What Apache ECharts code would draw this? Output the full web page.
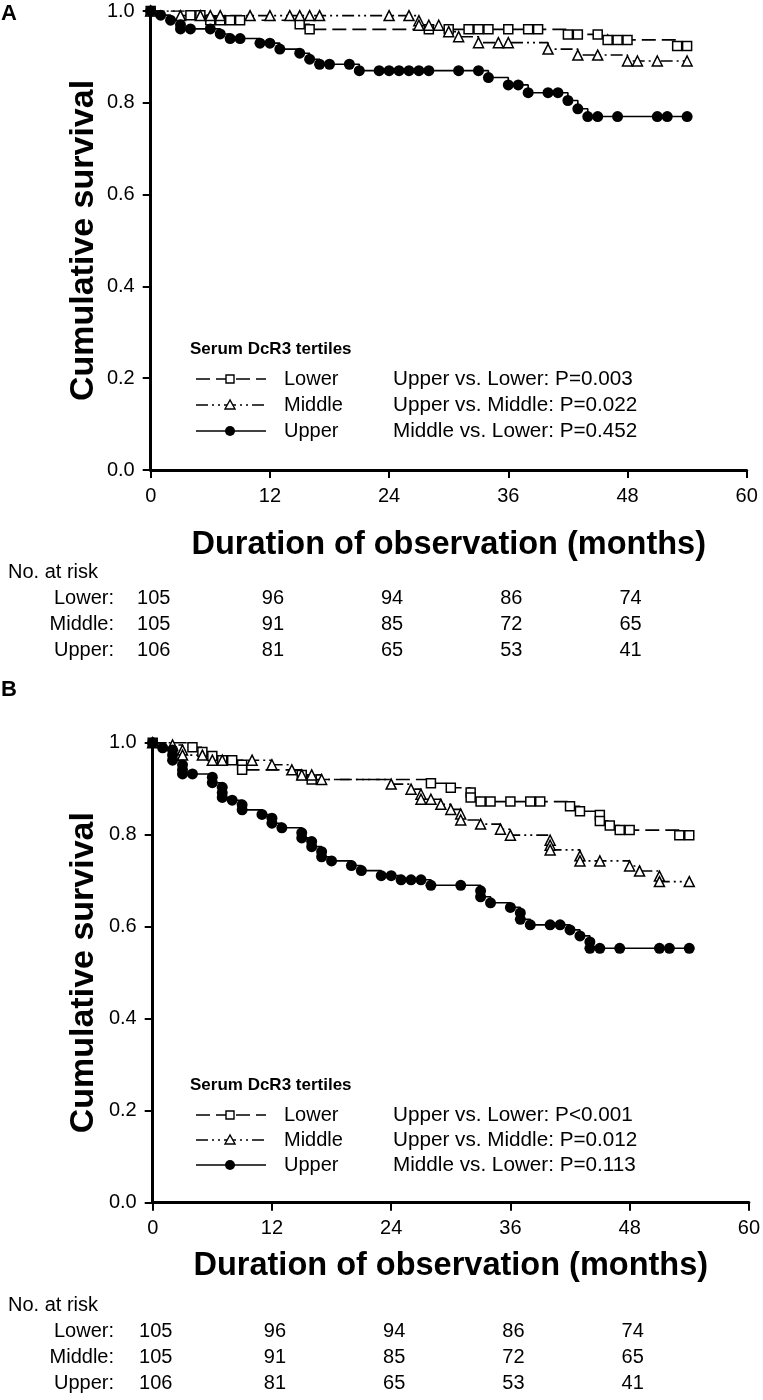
<!DOCTYPE html>
<html>
<head>
<meta charset="utf-8">
<script src="https://cdn.jsdelivr.net/npm/echarts@6/dist/echarts.min.js"></script>
<style>
html,body{margin:0;padding:0;background:#fff;}
#chart{width:763px;height:1400px;}
</style>
</head>
<body>
<div id="chart"></div>
<script>
// ---------- Panel A data ----------
const lowerA_t = [0,4,5,6,7,8,9,15,16,28,30,32,33,34,36,38,39,42,43,45,46,47,48,53,54];
const lowerA_s = [1,.991,.991,.980,.980,.980,.980,.971,.960,.960,.960,.960,.960,.960,.960,.960,.960,.949,.949,.949,.937,.937,.937,.924,.924];
const middleA_t = [0,3,5,6,7,10,12,14,15,16,17,24,26,27,27,28,29,30,31,33,35,36,40,43,45,48,49,51,54];
const middleA_s = [1,.990,.990,.990,.990,.990,.990,.990,.990,.990,.990,.990,.990,.979,.969,.969,.969,.955,.944,.931,.931,.931,.917,.904,.904,.891,.891,.891,.891];
const upperA_t = [0,1,2,3,3,4,6,7,8,9,11,12,13,15,16,17,18,20,21,23,24,25,26,27,28,31,33,34,36,37,38,40,41,42,43,44,45,47,51,52,54];
const upperA_s = [1,.991,.980,.970,.961,.961,.961,.950,.940,.940,.930,.930,.917,.908,.895,.884,.884,.884,.870,.870,.870,.870,.870,.870,.870,.870,.870,.855,.839,.839,.822,.822,.822,.805,.787,.770,.770,.770,.770,.770,.770];

// ---------- Panel B data ----------
const lowerB_t = [0,4,5,6,7,8,9,9,15,16,28,30,32,32,33,34,36,38,39,42,43,45,45,46,47,48,53,54];
const lowerB_s = [1,.990,.980,.971,.962,.962,.952,.941,.930,.920,.912,.902,.892,.881,.872,.872,.872,.872,.872,.862,.851,.843,.830,.820,.810,.810,.799,.799];
const middleB_t = [0,2,3,3,5,6,7,10,12,14,15,16,17,24,26,27,27,28,29,30,31,31,33,35,36,40,40,40,43,43,45,48,49,51,51,54];
const middleB_s = [1,.995,.984,.973,.973,.962,.962,.962,.952,.941,.930,.930,.920,.910,.899,.888,.877,.877,.866,.855,.845,.832,.823,.812,.799,.788,.777,.767,.754,.743,.743,.732,.721,.710,.698,.698];
const upperB_t = [0,1,2,2,2,3,3,3,4,6,6,7,7,7,8,9,9,11,12,12,13,15,15,16,16,17,17,18,20,21,23,24,25,26,27,28,31,33,33,34,36,37,37,38,40,41,42,43,44,44,45,47,51,52,54];
const upperB_s = [1,.989,.984,.973,.962,.952,.941,.932,.932,.925,.913,.903,.891,.881,.875,.865,.854,.844,.836,.825,.815,.804,.793,.785,.774,.763,.752,.743,.733,.722,.711,.711,.702,.702,.702,.690,.690,.678,.665,.652,.642,.630,.616,.604,.604,.604,.593,.580,.567,.553,.553,.553,.553,.553,.553];

// ---------- ticks / labels ----------
const xTicks = [0,12,24,36,48,60];
const yTicks = [0,0.2,0.4,0.6,0.8,1.0];
const groups = ['Lower','Middle','Upper'];
const riskTimes = [0,12,24,36,48];
const riskLower = [105,96,94,86,74];
const riskMiddle = [105,91,85,72,65];
const riskUpper = [106,81,65,53,41];
const pA = ['Upper vs. Lower: P=0.003','Upper vs. Middle: P=0.022','Middle vs. Lower: P=0.452'];
const pB = ['Upper vs. Lower: P<0.001','Upper vs. Middle: P=0.012','Middle vs. Lower: P=0.113'];
const legendTitle = 'Serum DcR3 tertiles';
const yTitle = 'Cumulative survival';
const xTitle = 'Duration of observation (months)';

const FONT = '"Liberation Sans", Arial, sans-serif';
const zip = (t, s) => t.map((v, i) => [v, s[i]]);

const chart = echarts.init(document.getElementById('chart'), null, {renderer: 'canvas'});

const dashLower = [14, 6];
const dashMiddle = [12, 4, 2, 4, 2, 4];

function axisPair(gi) {
  return {
    x: {
      type: 'value', gridIndex: gi, min: 0, max: 60, interval: 12,
      axisLine: {onZero: false, lineStyle: {color: '#000', width: 3}},
      axisTick: {length: 8, lineStyle: {color: '#000', width: 2}},
      axisLabel: {color: '#000', fontSize: 20, fontFamily: FONT, margin: 16},
      splitLine: {show: false}
    },
    y: {
      type: 'value', gridIndex: gi, min: 0, max: 1, interval: 0.2,
      axisLine: {show: true, onZero: false, lineStyle: {color: '#000', width: 3}},
      axisTick: {show: true, length: 8, lineStyle: {color: '#000', width: 2}},
      axisLabel: {color: '#000', fontSize: 20, fontFamily: FONT, margin: 16, formatter: v => v.toFixed(1)},
      splitLine: {show: false}
    }
  };
}
const a0 = axisPair(0), a1 = axisPair(1);

function series(gi, name, data, kind) {
  const base = {
    type: 'line', name: name, xAxisIndex: gi, yAxisIndex: gi, data: data,
    step: 'end', showSymbol: true, showAllSymbol: true, animation: false,
    lineStyle: {color: '#000', width: 1.6}
  };
  if (kind === 'lower') {
    base.symbol = 'rect'; base.symbolSize = 9;
    base.lineStyle.type = dashLower;
    base.itemStyle = {color: '#fff', borderColor: '#000', borderWidth: 1.5};
  } else if (kind === 'middle') {
    base.symbol = 'triangle'; base.symbolSize = 10;
    base.lineStyle.type = dashMiddle;
    base.itemStyle = {color: '#fff', borderColor: '#000', borderWidth: 1.5};
  } else {
    base.symbol = 'circle'; base.symbolSize = 11;
    base.itemStyle = {color: '#000', borderColor: '#000', borderWidth: 0};
    base.z = 3;
  }
  return base;
}

chart.setOption({
  backgroundColor: '#fff',
  animation: false,
  textStyle: {fontFamily: FONT},
  grid: [
    {left: 150.7, top: 11, width: 596, height: 459, containLabel: false},
    {left: 152.7, top: 742.7, width: 596.3, height: 460, containLabel: false}
  ],
  xAxis: [a0.x, a1.x],
  yAxis: [a0.y, a1.y],
  series: [
    series(0, 'Lower', zip(lowerA_t, lowerA_s), 'lower'),
    series(0, 'Middle', zip(middleA_t, middleA_s), 'middle'),
    series(0, 'Upper', zip(upperA_t, upperA_s), 'upper'),
    series(1, 'Lower', zip(lowerB_t, lowerB_s), 'lower'),
    series(1, 'Middle', zip(middleB_t, middleB_s), 'middle'),
    series(1, 'Upper', zip(upperB_t, upperB_s), 'upper')
  ]
});

// ---------- graphic overlays (titles, legends, at-risk table) ----------
const g = [];
function txt(x, y, s, opt) {
  opt = opt || {};
  g.push({
    type: 'text', x: x, y: y, rotation: opt.rot || 0, z: 100,
    style: {
      text: s, fill: '#000', fontFamily: FONT,
      fontSize: opt.size || 20, fontWeight: opt.bold ? 'bold' : 'normal',
      align: opt.align || 'left', verticalAlign: 'middle'
    }
  });
}
function legendBlock(titleY, rowYs, pTexts) {
  txt(190, titleY, legendTitle, {bold: true, size: 17});
  const kinds = ['lower', 'middle', 'upper'];
  rowYs.forEach((y, i) => {
    const k = kinds[i];
    const dash = k === 'lower' ? dashLower : (k === 'middle' ? dashMiddle : null);
    g.push({type: 'line', z: 100, shape: {x1: 196, y1: y, x2: 266, y2: y},
      style: {stroke: '#000', lineWidth: 1.6, lineDash: dash}});
    const cx = 230;
    if (k === 'lower') {
      g.push({type: 'rect', z: 101, shape: {x: cx - 4, y: y - 4, width: 8, height: 8},
        style: {fill: '#fff', stroke: '#000', lineWidth: 1.4}});
    } else if (k === 'middle') {
      g.push({type: 'polygon', z: 101, shape: {points: [[cx, y - 5], [cx - 5, y + 4], [cx + 5, y + 4]]},
        style: {fill: '#fff', stroke: '#000', lineWidth: 1.4}});
    } else {
      g.push({type: 'circle', z: 101, shape: {cx: cx, cy: y, r: 5}, style: {fill: '#000'}});
    }
    txt(284, y, groups[i], {size: 20});
    txt(393, y, pTexts[i], {size: 20.7});
  });
}
function panel(gi, letter, letterY, xTitleY, riskY) {
  const grid = gi === 0 ? {top: 11, h: 459} : {top: 742.7, h: 460};
  txt(1, letterY, letter, {bold: true, size: 22});
  txt(84, grid.top + grid.h / 2, yTitle, {bold: true, size: 34, align: 'center', rot: Math.PI / 2});
  const xc = chart.convertToPixel({xAxisIndex: gi}, 30);
  txt(xc, xTitleY, xTitle, {bold: true, size: 32.5, align: 'center'});
  txt(8, riskY, 'No. at risk', {size: 20});
  const rows = [riskLower, riskMiddle, riskUpper];
  rows.forEach((r, ri) => {
    const y = riskY + 26 * (ri + 1);
    txt(114, y, groups[ri] + ':', {size: 20, align: 'right'});
    r.forEach((n, j) => {
      const px = chart.convertToPixel({xAxisIndex: gi}, riskTimes[j]);
      txt(px + 3, y, String(n), {size: 20, align: 'center'});
    });
  });
}
panel(0, 'A', 14, 545, 572);
panel(1, 'B', 690, 1266, 1305);
legendBlock(349, [379, 405, 431], pA);
legendBlock(1085, [1115, 1140, 1165], pB);

chart.setOption({graphic: g});
</script>
</body>
</html>
